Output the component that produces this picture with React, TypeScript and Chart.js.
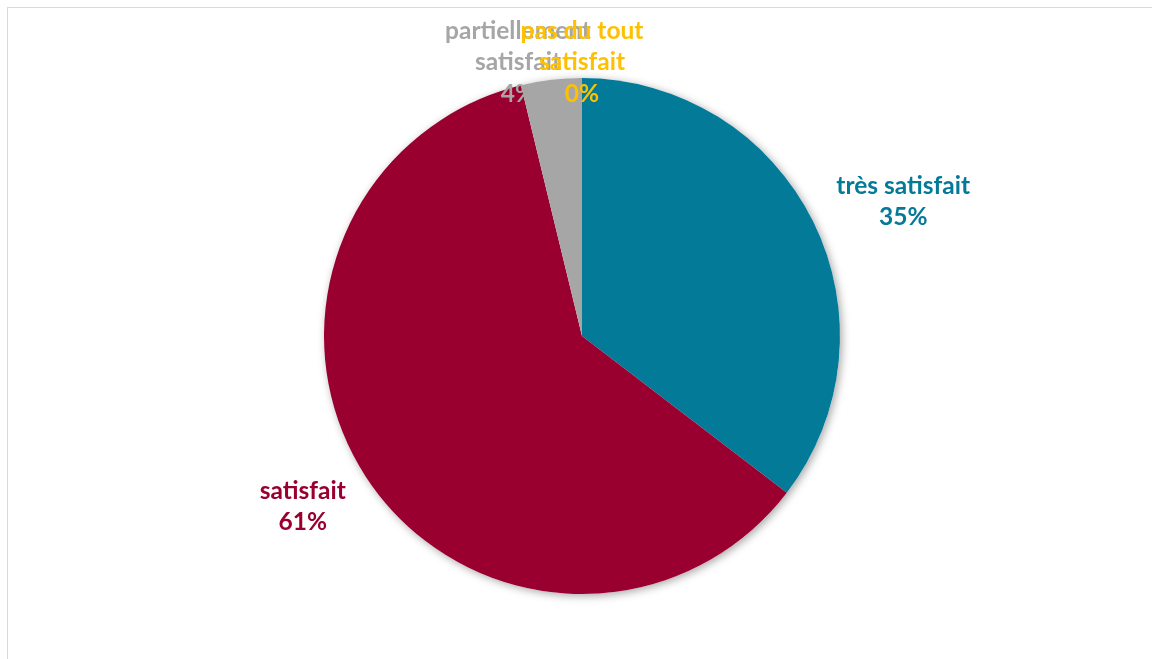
import React, { useEffect, useRef } from "react";
import { Chart, registerables } from "chart.js";

Chart.register(...registerables);

// ---- data ----
const categories = ["très satisfait", "satisfait", "partiellement satisfait", "pas du tout satisfait"];
const shares = [35.4, 60.8, 3.8, 0];
const colors = ["#047A99", "#990030", "#A6A6A6", "#FFC000"];

// ---- label styling ----
const FONT = 'bold 24.5px Lato, "Open Sans", sans-serif';
const LINE_H = 31.5;
const WRAP_W = 165;
const GAP = 30;
const TOP_LIMIT = 15;
const NUDGE: [number, number][] = [
  [3, 7],
  [-2, -4],
  [-21, 0],
  [0, 0],
];

function wrap(ctx: CanvasRenderingContext2D, text: string, maxW: number): string[] {
  const words = text.split(" ");
  const lines: string[] = [];
  let cur = "";
  for (const w of words) {
    const t = cur ? cur + " " + w : w;
    if (cur && ctx.measureText(t).width > maxW) {
      lines.push(cur);
      cur = w;
    } else cur = t;
  }
  if (cur) lines.push(cur);
  return lines;
}

const shadowPlugin = {
  id: "pieShadow",
  beforeDatasetsDraw(chart: any) {
    const el = chart.getDatasetMeta(0).data[0];
    if (!el) return;
    const { x, y, outerRadius } = el.getProps(["x", "y", "outerRadius"], true);
    const ctx = chart.ctx as CanvasRenderingContext2D;
    ctx.save();
    ctx.shadowColor = "rgba(0,0,0,0.35)";
    ctx.shadowBlur = 9;
    ctx.shadowOffsetX = 2;
    ctx.shadowOffsetY = 2;
    ctx.fillStyle = "#ffffff";
    ctx.beginPath();
    ctx.arc(x, y, outerRadius, 0, Math.PI * 2);
    ctx.fill();
    ctx.restore();
  },
};

const labelPlugin = {
  id: "outsideLabels",
  afterDatasetsDraw(chart: any) {
    const meta = chart.getDatasetMeta(0);
    const ctx = chart.ctx as CanvasRenderingContext2D;
    ctx.save();
    ctx.font = FONT;
    ctx.textAlign = "center";
    ctx.textBaseline = "middle";
    meta.data.forEach((el: any, i: number) => {
      const { x, y, startAngle, endAngle, outerRadius } = el.getProps(
        ["x", "y", "startAngle", "endAngle", "outerRadius"],
        true
      );
      const mid = (startAngle + endAngle) / 2;
      const ux = Math.cos(mid);
      const uy = Math.sin(mid);
      const lines = wrap(ctx, categories[i], WRAP_W).concat([Math.round(shares[i]) + "%"]);
      const w = Math.max(...lines.map((l) => ctx.measureText(l).width));
      const h = lines.length * LINE_H;
      let cx = x + ux * (outerRadius + GAP) + (ux * w) / 2;
      let cy = y + uy * (outerRadius + GAP) + (uy * h) / 2;
      if (cy - h / 2 < TOP_LIMIT) cy = TOP_LIMIT + h / 2;
      cx += NUDGE[i][0];
      cy += NUDGE[i][1];
      ctx.fillStyle = colors[i];
      lines.forEach((l, k) => {
        ctx.fillText(l, cx, cy + (k - (lines.length - 1) / 2) * LINE_H);
      });
    });
    ctx.restore();
  },
};

export default function App() {
  const canvasRef = useRef<HTMLCanvasElement | null>(null);

  useEffect(() => {
    if (!canvasRef.current) return;
    const chart = new Chart(canvasRef.current, {
      type: "pie",
      data: {
        labels: categories,
        datasets: [
          {
            data: shares,
            backgroundColor: colors,
            borderWidth: 0,
            hoverOffset: 0,
          },
        ],
      },
      options: {
        responsive: true,
        maintainAspectRatio: false,
        animation: false,
        layout: { padding: { left: 12, right: 0, top: 78, bottom: 65 } },
        plugins: {
          legend: { display: false },
          tooltip: { enabled: false },
        },
      },
      plugins: [shadowPlugin, labelPlugin],
    });
    return () => chart.destroy();
  }, []);

  return (
    <>
      <div
        style={{
          position: "absolute",
          left: 7,
          top: 7,
          width: 1145,
          height: 652,
          boxSizing: "border-box",
          borderTop: "1.5px solid #D9D9D9",
          borderLeft: "1.5px solid #D9D9D9",
        }}
      />
      <div
        style={{
          position: "absolute",
          left: 0,
          top: 0,
          width: 1152,
          height: 659,
          overflow: "hidden",
        }}
      >
        <canvas ref={canvasRef} />
      </div>
    </>
  );
}
